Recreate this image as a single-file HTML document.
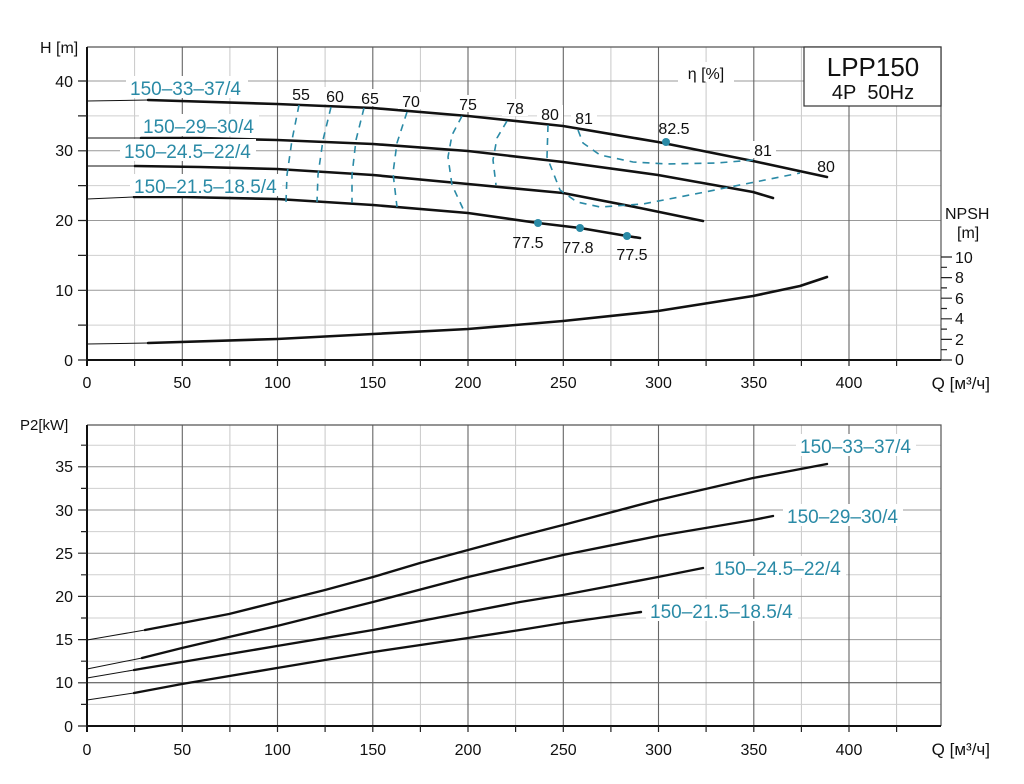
<!DOCTYPE html>
<html><head><meta charset="utf-8"><style>
html,body{margin:0;padding:0;background:#fff;}
svg{display:block;font-family:"Liberation Sans",Arial,sans-serif;}
.t{font-size:16px;fill:#111;}
.c{font-size:19px;fill:#2a8aa6;}
.e{font-size:16px;fill:#111;text-anchor:middle;}
.w{fill:#fff;}
</style></head><body>
<svg width="1024" height="784" viewBox="0 0 1024 784" xmlns="http://www.w3.org/2000/svg">
<rect width="1024" height="784" fill="#fff"/>
<path stroke="#c8c8c8" stroke-width="1" fill="none" d="M134.6 47V360M229.9 47V360M325.1 47V360M420.4 47V360M515.6 47V360M610.9 47V360M706.1 47V360M801.4 47V360M896.6 47V360
M134.6 425V726M229.9 425V726M325.1 425V726M420.4 425V726M515.6 425V726M610.9 425V726M706.1 425V726M801.4 425V726M896.6 425V726"/>
<path stroke="#cfcfcf" stroke-width="1" fill="none" d="M87 325.1H941M87 255.4H941M87 185.6H941M87 115.9H941"/>
<path stroke="#999" stroke-width="1" fill="none" d="M87 290.3H941M87 220.5H941M87 150.8H941M87 81H941"/>
<path stroke="#cfcfcf" stroke-width="1" fill="none" d="M87 704.4H941M87 661.2H941M87 618H941M87 574.8H941M87 531.6H941M87 488.4H941M87 445.2H941"/>
<path stroke="#999" stroke-width="1" fill="none" d="M87 639.6H941M87 596.4H941M87 553.2H941M87 510H941M87 466.8H941"/>
<path stroke="#444" stroke-width="1" fill="none" d="M87 682.8H941"/>
<path stroke="#666" stroke-width="1.1" fill="none" d="M182.3 47V360M277.5 47V360M372.8 47V360M468 47V360M563.3 47V360M658.5 47V360M753.8 47V360M849 47V360
M182.3 425V726M277.5 425V726M372.8 425V726M468 425V726M563.3 425V726M658.5 425V726M753.8 425V726M849 425V726"/>
<path stroke="#555" stroke-width="1.2" fill="none" d="M87 47H941V360M87 425H941V726"/>
<path stroke="#111" stroke-width="2" fill="none" d="M87 47V366M87 360H941M87 425V732M87 726H941"/>
<path stroke="#222" stroke-width="1.2" fill="none" d="M134.6 360v6M182.3 360v6M229.9 360v6M277.5 360v6M325.1 360v6M372.8 360v6M420.4 360v6M468 360v6M515.6 360v6M563.3 360v6M610.9 360v6M658.5 360v6M706.1 360v6M753.8 360v6M801.4 360v6M849 360v6M896.6 360v6
M134.6 726v6M182.3 726v6M229.9 726v6M277.5 726v6M325.1 726v6M372.8 726v6M420.4 726v6M468 726v6M515.6 726v6M563.3 726v6M610.9 726v6M658.5 726v6M706.1 726v6M753.8 726v6M801.4 726v6M849 726v6M896.6 726v6
M78 360h9M78 325.1h9M78 290.3h9M78 255.4h9M78 220.5h9M78 185.6h9M78 150.8h9M78 115.9h9M78 81h9
M78 726h9M81 704.4h6M78 682.8h9M81 661.2h6M78 639.6h9M81 618h6M78 596.4h9M81 574.8h6M78 553.2h9M81 531.6h6M78 510h9M81 488.4h6M78 466.8h9M81 445.2h6
M941 360h11M941 349.7h6M941 339.4h11M941 329.1h6M941 318.8h11M941 308.5h6M941 298.2h11M941 287.9h6M941 277.6h11M941 267.3h6M941 257h11"/>
<g class="t" text-anchor="middle">
<text x="87" y="388">0</text><text x="182.3" y="388">50</text><text x="277.5" y="388">100</text><text x="372.8" y="388">150</text><text x="468" y="388">200</text><text x="563.3" y="388">250</text><text x="658.5" y="388">300</text><text x="753.8" y="388">350</text><text x="849" y="388">400</text>
<text x="87" y="755">0</text><text x="182.3" y="755">50</text><text x="277.5" y="755">100</text><text x="372.8" y="755">150</text><text x="468" y="755">200</text><text x="563.3" y="755">250</text><text x="658.5" y="755">300</text><text x="753.8" y="755">350</text><text x="849" y="755">400</text>
</g>
<g class="t" text-anchor="end">
<text x="990" y="389" font-size="17">Q [м³/ч]</text><text x="990" y="755" font-size="17">Q [м³/ч]</text>
<text x="73" y="366">0</text><text x="73" y="296">10</text><text x="73" y="226">20</text><text x="73" y="156">30</text><text x="73" y="87">40</text>
<text x="73" y="732">0</text><text x="73" y="688">10</text><text x="73" y="645">15</text><text x="73" y="602">20</text><text x="73" y="559">25</text><text x="73" y="516">30</text><text x="73" y="472">35</text>
</g>
<g class="t">
<text x="955" y="365">0</text><text x="955" y="345">2</text><text x="955" y="324">4</text><text x="955" y="304">6</text><text x="955" y="283">8</text><text x="955" y="263">10</text>
<text x="945" y="219">NPSH</text><text x="957" y="238">[m]</text>
<text x="40" y="53">H [m]</text>
<text x="20" y="430" font-size="15">P2[kW]</text>
</g>
<g fill="none" stroke="#111" stroke-linejoin="round" stroke-linecap="round">
<path stroke-width="1" d="M87 101L148 100M87 138L141 138M87 166L135 166M87 199L134 197M87 344L148 343M87 640L145 630M87 669L142 658M87 678L134 670M87 700L134 693"/>
<path stroke-width="2.6" d="M148 100L277 104L373 108L468 116L563 126L658 142L753 161L827 177
M141 138L200 138L277 140L373 144L468 151L563 162L658 175L753 192L773 198
M135 166L200 167L277 169L373 175L468 184L563 193L640 208L703 221
M134 197L182 197L277 199L373 205L468 213L538 223L580 228L627 236L640 238
M148 343L277 339L373 334L468 329L563 321L658 311L753 296L800 286L827 277"/>
<path stroke-width="2.4" d="M145 630L182 623L229 614L277 602L325 590L373 577L420 563L468 550L520 536L563 525L658 500L753 478L827 464
M142 658L182 648L229 637L277 626L373 602L468 577L520 565L563 555L658 536L753 520L773 516
M134 670L182 662L277 646L373 630L468 612L520 602L563 595L658 577L703 568
M134 693L182 684L277 668L373 652L468 638L520 630L563 623L641 612"/>
</g>
<g fill="none" stroke="#2a8aa6" stroke-width="1.6" stroke-dasharray="7 6" stroke-linejoin="round">
<path d="M299 105L292 140L287 175L286 202"/>
<path d="M331 107L323 140L318 175L317 202"/>
<path d="M364 108L356 140L352 175L352 203"/>
<path d="M407 112L397 143L393 173L397 207"/>
<path d="M462 116L452 135L448 157L452 185L465 213"/>
<path d="M507 121L497 138L493 160L496 185"/>
<path d="M548 125L547 157L560 190L577 202L600 207L643 204L700 193L750 183L800 173"/>
<path d="M578 130L583 143L600 155L633 162L667 164L717 163L753 160"/>
</g>
<g fill="#2a8aa6"><circle cx="538" cy="223" r="4"/><circle cx="580" cy="228" r="4"/><circle cx="627" cy="236" r="4"/><circle cx="666" cy="142" r="4"/></g>
<g class="w">
<rect x="289" y="85" width="24" height="17"/><rect x="322" y="87" width="26" height="17"/><rect x="357" y="89" width="26" height="17"/><rect x="398" y="92" width="26" height="17"/><rect x="455" y="95" width="26" height="17"/><rect x="502" y="99" width="26" height="17"/><rect x="537" y="105" width="26" height="17"/><rect x="571" y="109" width="26" height="17"/><rect x="750" y="141" width="26" height="17"/><rect x="678" y="62" width="56" height="20"/>
<rect x="126" y="76" width="122" height="22"/><rect x="139" y="114" width="120" height="22"/><rect x="120" y="139" width="136" height="22"/><rect x="130" y="174" width="152" height="22"/>
<rect x="796" y="434" width="120" height="22"/><rect x="783" y="504" width="120" height="22"/><rect x="710" y="556" width="136" height="22"/><rect x="646" y="599" width="152" height="22"/>
</g>
<g class="e">
<text x="301" y="100">55</text><text x="335" y="102">60</text><text x="370" y="104">65</text><text x="411" y="107">70</text><text x="468" y="110">75</text><text x="515" y="114">78</text><text x="550" y="120">80</text><text x="584" y="124">81</text>
<text x="674" y="134">82.5</text><text x="763" y="156">81</text><text x="826" y="172">80</text>
<text x="528" y="248">77.5</text><text x="578" y="253">77.8</text><text x="632" y="260">77.5</text>
<text x="706" y="79">η [%]</text>
</g>
<g class="c">
<text x="130" y="95">150–33–37/4</text><text x="143" y="133">150–29–30/4</text><text x="124" y="158">150–24.5–22/4</text><text x="134" y="193">150–21.5–18.5/4</text>
<text x="800" y="453">150–33–37/4</text><text x="787" y="523">150–29–30/4</text><text x="714" y="575">150–24.5–22/4</text><text x="650" y="618">150–21.5–18.5/4</text>
</g>
<rect x="804" y="47" width="137" height="59" fill="#fff" stroke="#333" stroke-width="1.2"/>
<text x="873" y="76" text-anchor="middle" font-size="26" fill="#111">LPP150</text>
<text x="873" y="99" text-anchor="middle" font-size="20" fill="#111">4P&#160;&#160;50Hz</text>
</svg>
</body></html>
